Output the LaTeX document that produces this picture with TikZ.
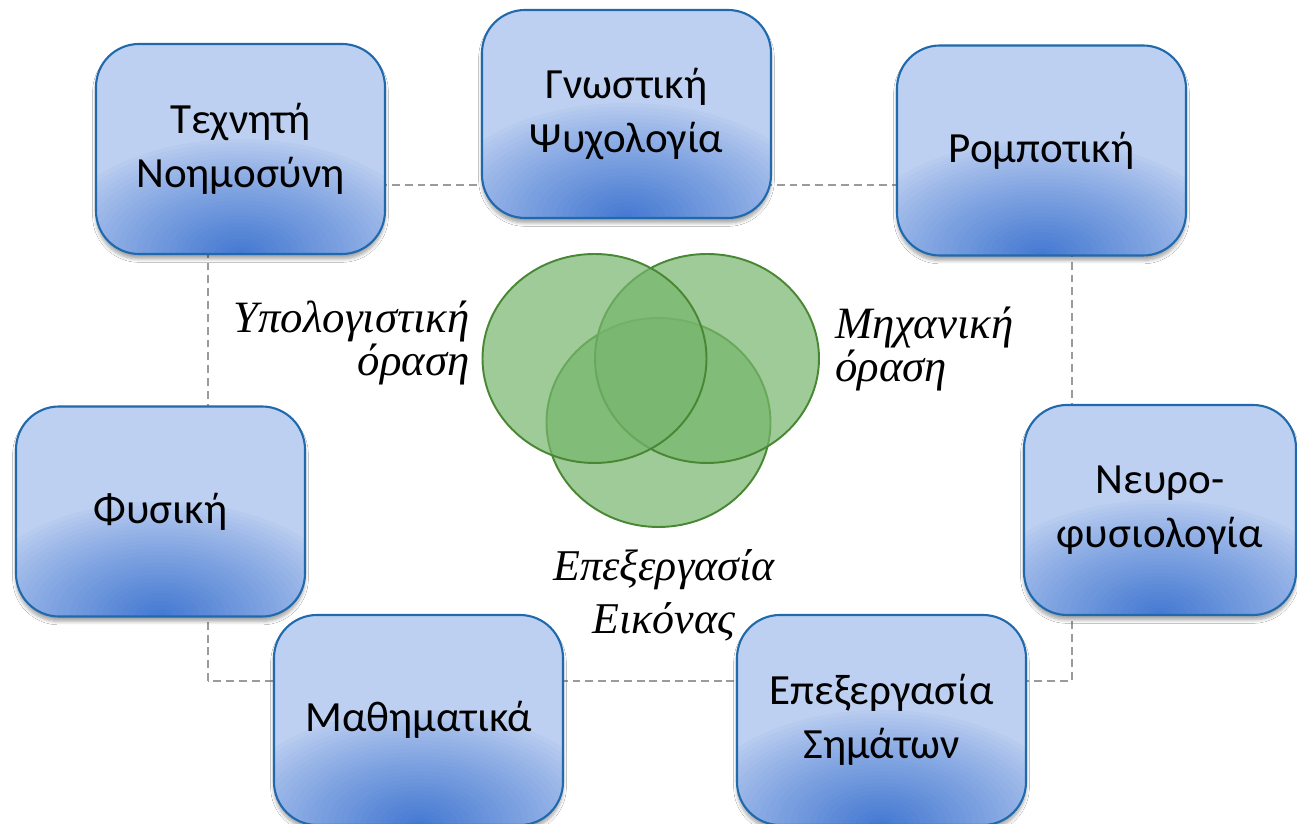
\documentclass[tikz,border=0pt]{standalone}
\usepackage{fontspec}
\setmainfont{Carlito}
\newfontfamily\vennfont{Liberation Serif}
\usetikzlibrary{shadows.blur}
\definecolor{boxlight}{RGB}{190,208,241}
\definecolor{boxdark}{RGB}{70,122,210}
\definecolor{boxline}{RGB}{31,105,172}
\definecolor{vennfill}{RGB}{119,182,109}
\definecolor{vennline}{RGB}{72,136,52}
\definecolor{frameline}{RGB}{155,155,155}
\tikzset{
  field/.style={draw=boxline, line width=1.2pt, fill=boxlight, rounded corners=0.86cm,
    minimum width=5.78cm, minimum height=4.2cm, align=center,
    font=\fontsize{24.5}{31}\selectfont,
    blur shadow={shadow xshift=0pt, shadow yshift=-0.1cm, shadow blur steps=6, shadow opacity=35},
    path picture={\foreach \k in {1,...,30}{
        \pgfmathsetmacro\p{100*(\k/30)^0.85}
        \fill[boxdark!\p!boxlight] (path picture bounding box.south)
          ellipse ({3.9cm*(1-(\k-1)/30)} and {2.3cm*(1-(\k-1)/30)});}}},
  venn/.style={draw=vennline, line width=1.1pt, fill=vennfill, fill opacity=0.7},
  vlabel/.style={inner sep=0pt, font=\vennfont\itshape\fontsize{25.5}{25}\selectfont}
}
\begin{document}
\begin{tikzpicture}
\useasboundingbox (0,0) rectangle (25.94,16.48);
\fill[white] (0,0) rectangle (25.94,16.48);
% dashed frame behind the fields
\coordinate (fsw) at (4.16,2.86);
\coordinate (fne) at (21.44,12.78);
\draw[frameline, line width=0.8pt, dash pattern=on 4.5pt off 2.8pt] (fsw) rectangle (fne);
% fields
\node[field] (ai) at (4.81,13.5) {Τεχνητή\\Νοημοσύνη};
\node[field, minimum height=4.16cm] (cog) at (12.53,14.2) {Γνωστική\\Ψυχολογία};
\node[field] (rob) at (20.83,13.47) {Ρομποτική};
\node[field] (phys) at (3.21,6.25) {Φυσική};
\node[field, minimum width=5.44cm] (neuro) at (23.2,6.28) {Νευρο-\\φυσιολογία};
\node[field] (math) at (8.37,2.08) {Μαθηματικά};
\node[field] (sig) at (17.63,2.08) {Επεξεργασία\\Σημάτων};
% venn
\draw[venn] (13.17,8.03) ellipse (2.24 and 2.09);
\draw[venn] (14.14,9.31) ellipse (2.24 and 2.09);
\draw[venn] (11.89,9.31) ellipse (2.24 and 2.09);
\node[vlabel, anchor=east, align=right] (cv) at (9.4,9.62) {Υπολογιστική\\όραση};
\node[vlabel, anchor=west, align=left] (mv) at (16.7,9.5) {Μηχανική\\όραση};
\node[vlabel, align=center, font=\vennfont\itshape\fontsize{25}{30}\selectfont] (ip) at (13.28,4.58) {Επεξεργασία\\Εικόνας};
\end{tikzpicture}
\end{document}
